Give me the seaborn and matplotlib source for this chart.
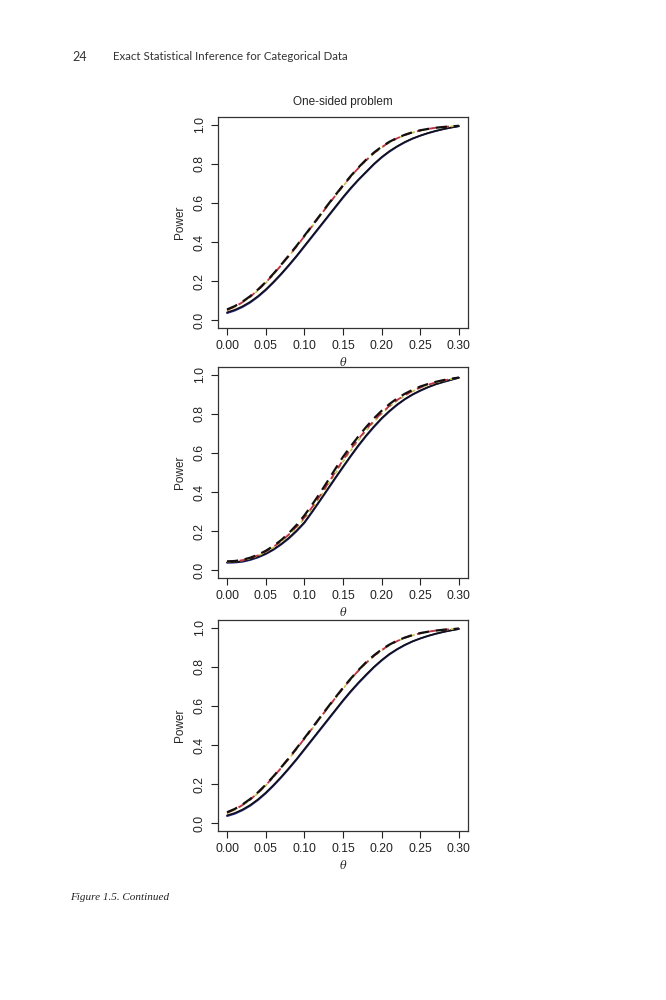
import numpy as np
import pandas as pd
import matplotlib
matplotlib.use("Agg")
import matplotlib.pyplot as plt
import seaborn as sns

theta = [0.00, 0.01, 0.02, 0.03, 0.04, 0.05, 0.06, 0.07, 0.08, 0.09, 0.10,
         0.11, 0.12, 0.13, 0.14, 0.15, 0.16, 0.17, 0.18, 0.19, 0.20,
         0.21, 0.22, 0.23, 0.24, 0.25, 0.26, 0.27, 0.28, 0.29, 0.30]

# Panel 1
p1_solid_black = [0.040, 0.053, 0.071, 0.094, 0.123, 0.157, 0.196, 0.238, 0.283, 0.330, 0.380, 0.430, 0.480, 0.530, 0.580, 0.630, 0.677, 0.720, 0.760, 0.800, 0.835, 0.865, 0.890, 0.912, 0.930, 0.945, 0.958, 0.969, 0.978, 0.986, 0.993]
p1_solid_blue  = [0.036, 0.049, 0.067, 0.090, 0.119, 0.153, 0.192, 0.234, 0.279, 0.326, 0.376, 0.426, 0.476, 0.526, 0.576, 0.626, 0.673, 0.717, 0.757, 0.797, 0.832, 0.862, 0.888, 0.910, 0.929, 0.944, 0.957, 0.968, 0.978, 0.986, 0.993]
p1_dash_black  = [0.055, 0.072, 0.095, 0.123, 0.157, 0.195, 0.238, 0.284, 0.332, 0.381, 0.432, 0.484, 0.536, 0.589, 0.640, 0.690, 0.738, 0.782, 0.822, 0.858, 0.888, 0.913, 0.933, 0.949, 0.962, 0.972, 0.979, 0.985, 0.989, 0.992, 0.995]
p1_dash_red    = [0.052, 0.069, 0.092, 0.120, 0.154, 0.192, 0.235, 0.281, 0.329, 0.378, 0.429, 0.481, 0.533, 0.586, 0.637, 0.687, 0.735, 0.779, 0.819, 0.855, 0.885, 0.911, 0.931, 0.948, 0.961, 0.971, 0.979, 0.985, 0.989, 0.992, 0.995]
p1_dot_yellow  = [0.050, 0.067, 0.090, 0.118, 0.152, 0.190, 0.233, 0.279, 0.327, 0.376, 0.427, 0.479, 0.531, 0.584, 0.635, 0.685, 0.733, 0.777, 0.817, 0.853, 0.883, 0.909, 0.930, 0.947, 0.960, 0.970, 0.978, 0.984, 0.988, 0.992, 0.995]

# Panel 2
p2_solid_black = [0.040, 0.041, 0.046, 0.055, 0.068, 0.085, 0.107, 0.134, 0.166, 0.203, 0.245, 0.300, 0.357, 0.415, 0.473, 0.530, 0.586, 0.640, 0.690, 0.736, 0.778, 0.815, 0.848, 0.876, 0.900, 0.920, 0.937, 0.952, 0.964, 0.975, 0.985]
p2_solid_blue  = [0.038, 0.039, 0.043, 0.052, 0.065, 0.082, 0.104, 0.131, 0.162, 0.199, 0.241, 0.296, 0.353, 0.411, 0.469, 0.526, 0.582, 0.636, 0.686, 0.732, 0.775, 0.812, 0.845, 0.874, 0.898, 0.918, 0.936, 0.951, 0.963, 0.974, 0.985]
p2_dash_black  = [0.045, 0.047, 0.053, 0.064, 0.079, 0.099, 0.124, 0.154, 0.190, 0.232, 0.280, 0.335, 0.393, 0.455, 0.518, 0.580, 0.634, 0.685, 0.733, 0.777, 0.816, 0.850, 0.879, 0.903, 0.923, 0.940, 0.953, 0.964, 0.973, 0.980, 0.986]
p2_dash_red    = [0.044, 0.046, 0.051, 0.061, 0.076, 0.095, 0.119, 0.148, 0.183, 0.223, 0.269, 0.322, 0.379, 0.440, 0.502, 0.563, 0.619, 0.671, 0.720, 0.765, 0.805, 0.840, 0.871, 0.896, 0.917, 0.935, 0.949, 0.961, 0.971, 0.979, 0.986]
p2_dot_yellow  = [0.043, 0.045, 0.050, 0.060, 0.074, 0.093, 0.116, 0.145, 0.179, 0.218, 0.263, 0.315, 0.371, 0.432, 0.494, 0.555, 0.611, 0.664, 0.713, 0.759, 0.800, 0.836, 0.867, 0.893, 0.915, 0.933, 0.948, 0.960, 0.970, 0.978, 0.986]

# Panel 3
p3_solid_black = [0.040, 0.052, 0.070, 0.093, 0.122, 0.156, 0.195, 0.237, 0.282, 0.329, 0.379, 0.429, 0.479, 0.529, 0.579, 0.629, 0.676, 0.720, 0.761, 0.800, 0.835, 0.866, 0.891, 0.913, 0.931, 0.946, 0.959, 0.970, 0.979, 0.987, 0.994]
p3_solid_blue  = [0.036, 0.048, 0.066, 0.089, 0.118, 0.152, 0.191, 0.233, 0.278, 0.325, 0.375, 0.425, 0.475, 0.525, 0.575, 0.625, 0.672, 0.716, 0.757, 0.797, 0.832, 0.863, 0.889, 0.911, 0.930, 0.945, 0.958, 0.969, 0.979, 0.987, 0.994]
p3_dash_black  = [0.056, 0.073, 0.096, 0.124, 0.158, 0.197, 0.240, 0.286, 0.334, 0.384, 0.435, 0.487, 0.540, 0.592, 0.643, 0.693, 0.740, 0.784, 0.824, 0.859, 0.889, 0.914, 0.934, 0.950, 0.963, 0.973, 0.980, 0.986, 0.990, 0.993, 0.996]
p3_dash_red    = [0.053, 0.070, 0.093, 0.121, 0.155, 0.194, 0.237, 0.283, 0.331, 0.381, 0.432, 0.484, 0.537, 0.589, 0.640, 0.690, 0.737, 0.781, 0.821, 0.856, 0.886, 0.912, 0.932, 0.949, 0.962, 0.972, 0.980, 0.986, 0.990, 0.993, 0.996]
p3_dot_yellow  = [0.051, 0.068, 0.091, 0.119, 0.153, 0.192, 0.235, 0.281, 0.329, 0.379, 0.430, 0.482, 0.535, 0.587, 0.638, 0.688, 0.735, 0.779, 0.819, 0.854, 0.884, 0.910, 0.931, 0.948, 0.961, 0.971, 0.979, 0.985, 0.989, 0.993, 0.996]

x_ticks = [0.00, 0.05, 0.10, 0.15, 0.20, 0.25, 0.30]
x_tick_labels = ["0.00", "0.05", "0.10", "0.15", "0.20", "0.25", "0.30"]
y_ticks = [0.0, 0.2, 0.4, 0.6, 0.8, 1.0]
y_tick_labels = ["0.0", "0.2", "0.4", "0.6", "0.8", "1.0"]

panels = [
    [p1_solid_black, p1_solid_blue, p1_dash_black, p1_dash_red, p1_dot_yellow],
    [p2_solid_black, p2_solid_blue, p2_dash_black, p2_dash_red, p2_dot_yellow],
    [p3_solid_black, p3_solid_blue, p3_dash_black, p3_dash_red, p3_dot_yellow],
]
series_names = ["solid_black", "solid_blue", "dash_black", "dash_red", "dot_yellow"]
styles = {
    "solid_blue":  dict(color="#2a2a9a", ls="-", lw=1.3),
    "solid_black": dict(color="#111111", ls="-", lw=1.2),
    "dot_yellow":  dict(color="#c9c23a", ls=(0, (2, 2)), lw=1.2),
    "dash_red":    dict(color="#c0304a", ls=(0, (4, 3)), lw=1.3),
    "dash_black":  dict(color="#111111", ls=(0, (5, 3)), lw=1.6),
}
draw_order = ["solid_blue", "solid_black", "dot_yellow", "dash_red", "dash_black"]

sns.set_theme(style="ticks")
plt.rcParams["font.family"] = ["Liberation Sans", "DejaVu Sans"]
plt.rcParams["mathtext.fontset"] = "dejavuserif"

fig = plt.figure(figsize=(6.66, 10), dpi=100)

bottoms = [0.672, 0.422, 0.169]
left, width, height = 0.327, 0.376, 0.211

for pi, vals in enumerate(panels):
    ax = fig.add_axes([left, bottoms[pi], width, height])
    rows = []
    for name, v in zip(series_names, vals):
        for t, p in zip(theta, v):
            rows.append({"theta": t, "power": p, "series": name})
    df = pd.DataFrame(rows)
    for name in draw_order:
        st = styles[name]
        sns.lineplot(data=df[df["series"] == name], x="theta", y="power", ax=ax,
                     color=st["color"], linestyle=st["ls"], linewidth=st["lw"],
                     legend=False, estimator=None)
    ax.set_xlim(-0.012, 0.312)
    ax.set_ylim(-0.04, 1.04)
    ax.set_xticks(x_ticks)
    ax.set_xticklabels(x_tick_labels, fontsize=8.7)
    ax.set_yticks(y_ticks)
    ax.set_yticklabels(y_tick_labels, fontsize=8.7, rotation=90, va="center")
    ax.tick_params(direction="out", length=5, width=0.8, colors="#222222", pad=3.5)
    for s in ax.spines.values():
        s.set_visible(True)
        s.set_linewidth(0.9)
        s.set_color("#333333")
    ax.set_xlabel(r"$\mathit{\theta}$", fontsize=8, labelpad=2)
    ax.set_ylabel("Power", fontsize=8.5, labelpad=6)
    if pi == 0:
        ax.set_title("One-sided problem", fontsize=8.5, pad=9)

fig.text(0.108, 0.943, "24", fontsize=9, family=["Lato", "DejaVu Sans"], color="#333333", va="center")
fig.text(0.169, 0.943, "Exact Statistical Inference for Categorical Data", fontsize=8.3,
         family=["Lato", "DejaVu Sans"], color="#333333", va="center")
fig.text(0.105, 0.103, "Figure 1.5. Continued", fontsize=8, style="italic",
         family=["Liberation Serif", "DejaVu Serif"], color="#222222", va="center")

fig.savefig("out.png", dpi=100, facecolor="white")
